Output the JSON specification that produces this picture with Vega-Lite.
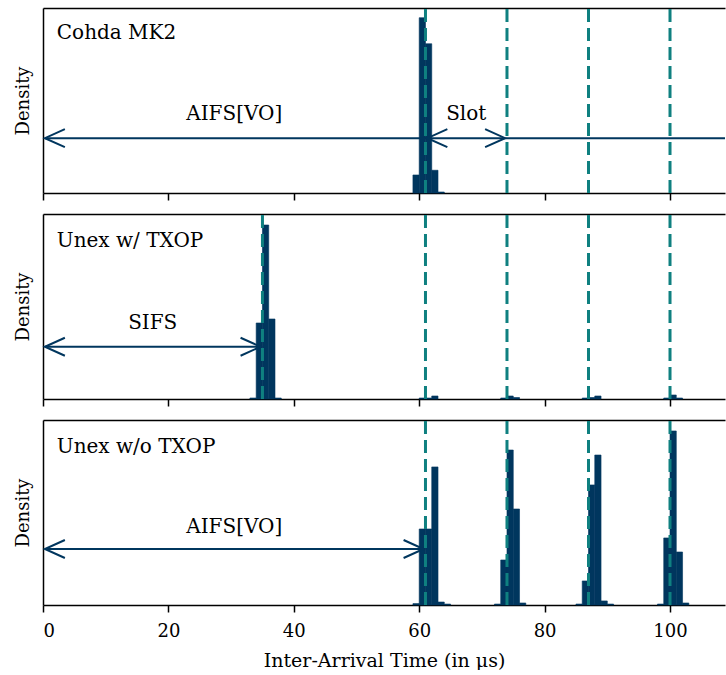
{
  "$schema": "https://vega.github.io/schema/vega-lite/v6.json",
  "padding": {"left": 14, "top": 6, "right": 0, "bottom": 0},
  "config": {
    "font": "DejaVu Serif",
    "view": {"stroke": null},
    "axis": {"domainColor": "black", "domainWidth": 1.5, "tickColor": "black", "tickWidth": 1.5, "tickSize": 7, "labelFontSize": 18, "labelColor": "black", "labelFont": "DejaVu Serif", "titleFont": "DejaVu Serif", "titleFontSize": 18, "titleColor": "black", "titleFontWeight": "normal", "grid": false},
    "concat": {"spacing": 11}
  },
  "datasets": {
    "bars": [
      {"panel": 1, "start": 59, "end": 60, "density": 0.0492},
      {"panel": 1, "start": 60, "end": 61, "density": 0.4785},
      {"panel": 1, "start": 61, "end": 62, "density": 0.4074},
      {"panel": 1, "start": 62, "end": 63, "density": 0.0621},
      {"panel": 1, "start": 63, "end": 64, "density": 0.0027},
      {"panel": 2, "start": 33, "end": 34, "density": 0.0028},
      {"panel": 2, "start": 34, "end": 35, "density": 0.2147},
      {"panel": 2, "start": 35, "end": 36, "density": 0.4915},
      {"panel": 2, "start": 36, "end": 37, "density": 0.226},
      {"panel": 2, "start": 37, "end": 38, "density": 0.0028},
      {"panel": 2, "start": 60, "end": 61, "density": 0.0028},
      {"panel": 2, "start": 61, "end": 62, "density": 0.0028},
      {"panel": 2, "start": 62, "end": 63, "density": 0.0085},
      {"panel": 2, "start": 73, "end": 74, "density": 0.0028},
      {"panel": 2, "start": 74, "end": 75, "density": 0.0085},
      {"panel": 2, "start": 75, "end": 76, "density": 0.0042},
      {"panel": 2, "start": 86, "end": 87, "density": 0.0028},
      {"panel": 2, "start": 87, "end": 88, "density": 0.0042},
      {"panel": 2, "start": 88, "end": 89, "density": 0.0085},
      {"panel": 2, "start": 99, "end": 100, "density": 0.0028},
      {"panel": 2, "start": 100, "end": 101, "density": 0.0113},
      {"panel": 2, "start": 101, "end": 102, "density": 0.0028},
      {"panel": 3, "start": 59, "end": 60, "density": 0.0012},
      {"panel": 3, "start": 60, "end": 61, "density": 0.0638},
      {"panel": 3, "start": 61, "end": 62, "density": 0.0638},
      {"panel": 3, "start": 62, "end": 63, "density": 0.1159},
      {"panel": 3, "start": 63, "end": 64, "density": 0.0025},
      {"panel": 3, "start": 64, "end": 65, "density": 0.0008},
      {"panel": 3, "start": 72, "end": 73, "density": 0.0008},
      {"panel": 3, "start": 73, "end": 74, "density": 0.0378},
      {"panel": 3, "start": 74, "end": 75, "density": 0.1301},
      {"panel": 3, "start": 75, "end": 76, "density": 0.0806},
      {"panel": 3, "start": 76, "end": 77, "density": 0.0017},
      {"panel": 3, "start": 85, "end": 86, "density": 0.0008},
      {"panel": 3, "start": 86, "end": 87, "density": 0.0202},
      {"panel": 3, "start": 87, "end": 88, "density": 0.1008},
      {"panel": 3, "start": 88, "end": 89, "density": 0.1259},
      {"panel": 3, "start": 89, "end": 90, "density": 0.0034},
      {"panel": 3, "start": 90, "end": 91, "density": 0.0008},
      {"panel": 3, "start": 98, "end": 99, "density": 0.0008},
      {"panel": 3, "start": 99, "end": 100, "density": 0.0563},
      {"panel": 3, "start": 100, "end": 101, "density": 0.1461},
      {"panel": 3, "start": 101, "end": 102, "density": 0.0445},
      {"panel": 3, "start": 102, "end": 103, "density": 0.0017}
    ],
    "vlines": [
      {"panel": 1, "x": 61}, {"panel": 1, "x": 74}, {"panel": 1, "x": 87}, {"panel": 1, "x": 100},
      {"panel": 2, "x": 35}, {"panel": 2, "x": 61}, {"panel": 2, "x": 74}, {"panel": 2, "x": 87}, {"panel": 2, "x": 100},
      {"panel": 3, "x": 61}, {"panel": 3, "x": 74}, {"panel": 3, "x": 87}, {"panel": 3, "x": 100}
    ],
    "arrows": [
      {"panel": 1, "x1": 0.3, "x2": 61.3, "y": 0.1496},
      {"panel": 1, "x1": 61.3, "x2": 73.7, "y": 0.1496},
      {"panel": 1, "x1": 73.7, "x2": 108.77, "y": 0.1496},
      {"panel": 2, "x1": 0.3, "x2": 34.7, "y": 0.1477},
      {"panel": 3, "x1": 0.3, "x2": 60.7, "y": 0.047}
    ],
    "heads": [
      {"panel": 1, "x": 0.3, "y": 0.1496, "dir": "left"},
      {"panel": 1, "x": 61.3, "y": 0.1496, "dir": "left"},
      {"panel": 1, "x": 73.7, "y": 0.1496, "dir": "right"},
      {"panel": 2, "x": 0.3, "y": 0.1477, "dir": "left"},
      {"panel": 2, "x": 34.7, "y": 0.1477, "dir": "right"},
      {"panel": 3, "x": 0.3, "y": 0.047, "dir": "left"},
      {"panel": 3, "x": 60.7, "y": 0.047, "dir": "right"}
    ],
    "titles": [
      {"panel": 1, "x": 2.2, "y": 0.437, "text": "Cohda MK2"},
      {"panel": 2, "x": 2.2, "y": 0.446, "text": "Unex w/ TXOP"},
      {"panel": 3, "x": 2.2, "y": 0.1326, "text": "Unex w/o TXOP"}
    ],
    "tags": [
      {"panel": 1, "x": 30.5, "y": 0.2152, "text": "AIFS[VO]"},
      {"panel": 1, "x": 67.5, "y": 0.2152, "text": "Slot"},
      {"panel": 2, "x": 17.5, "y": 0.2155, "text": "SIFS"},
      {"panel": 3, "x": 30.5, "y": 0.0655, "text": "AIFS[VO]"}
    ]
  },
  "vconcat": [
    {
      "width": 682, "height": 185,
      "layer": [
        {"data": {"name": "bars"}, "transform": [{"filter": "datum.panel == 1"}],
         "mark": {"type": "bar", "color": "#00365e", "stroke": "#00365e", "strokeWidth": 0.6},
         "encoding": {
           "x": {"field": "start", "type": "quantitative", "scale": {"domain": [0, 108.77], "nice": false, "zero": false}, "axis": {"orient": "bottom", "values": [0, 20, 40, 60, 80, 100], "labels": false, "title": null}},
           "x2": {"field": "end"},
           "y": {"field": "density", "type": "quantitative", "scale": {"domain": [0, 0.505], "nice": false}, "axis": {"title": "Density", "labels": false, "ticks": false, "titlePadding": 11}},
           "y2": {"datum": 0}
         }},
        {"data": {"name": "vlines"}, "transform": [{"filter": "datum.panel == 1"}],
         "mark": {"type": "rule", "color": "#0f8080", "strokeWidth": 3, "strokeDash": [13, 6]},
         "encoding": {
           "x": {"field": "x", "type": "quantitative", "scale": {"domain": [0, 108.77], "nice": false, "zero": false}, "axis": {"orient": "top", "labels": false, "ticks": false, "title": null}},
           "y": {"datum": 0, "type": "quantitative"},
           "y2": {"datum": 0.505}
         }},
        {"data": {"name": "arrows"}, "transform": [{"filter": "datum.panel == 1"}],
         "mark": {"type": "rule", "color": "#00365e", "strokeWidth": 2},
         "encoding": {
           "x": {"field": "x1", "type": "quantitative", "axis": null},
           "x2": {"field": "x2"},
           "y": {"field": "y", "type": "quantitative"}
         }},
        {"data": {"name": "heads"}, "transform": [{"filter": "datum.panel == 1"}],
         "mark": {"type": "point", "filled": false, "color": "#00365e", "strokeWidth": 2, "size": 1600, "opacity": 1},
         "encoding": {
           "x": {"field": "x", "type": "quantitative", "axis": null},
           "y": {"field": "y", "type": "quantitative"},
           "shape": {"field": "dir", "type": "nominal", "scale": {"domain": ["left", "right"], "range": ["M 1 -0.45 L 0 0 L 1 0.45", "M -1 -0.45 L 0 0 L -1 0.45"]}, "legend": null}
         }},
        {"data": {"name": "titles"}, "transform": [{"filter": "datum.panel == 1"}],
         "mark": {"type": "text", "align": "left", "baseline": "middle", "fontSize": 20, "color": "black"},
         "encoding": {
           "x": {"field": "x", "type": "quantitative", "axis": null},
           "y": {"field": "y", "type": "quantitative"},
           "text": {"field": "text"}
         }},
        {"data": {"name": "tags"}, "transform": [{"filter": "datum.panel == 1"}],
         "mark": {"type": "text", "align": "center", "baseline": "middle", "fontSize": 20, "color": "black"},
         "encoding": {
           "x": {"field": "x", "type": "quantitative", "axis": null},
           "y": {"field": "y", "type": "quantitative"},
           "text": {"field": "text"}
         }}
      ]
    },
    {
      "width": 682, "height": 185,
      "layer": [
        {"data": {"name": "bars"}, "transform": [{"filter": "datum.panel == 2"}],
         "mark": {"type": "bar", "color": "#00365e", "stroke": "#00365e", "strokeWidth": 0.6},
         "encoding": {
           "x": {"field": "start", "type": "quantitative", "scale": {"domain": [0, 108.77], "nice": false, "zero": false}, "axis": {"orient": "bottom", "values": [0, 20, 40, 60, 80, 100], "labels": false, "title": null}},
           "x2": {"field": "end"},
           "y": {"field": "density", "type": "quantitative", "scale": {"domain": [0, 0.5226], "nice": false}, "axis": {"title": "Density", "labels": false, "ticks": false, "titlePadding": 11}},
           "y2": {"datum": 0}
         }},
        {"data": {"name": "vlines"}, "transform": [{"filter": "datum.panel == 2"}],
         "mark": {"type": "rule", "color": "#0f8080", "strokeWidth": 3, "strokeDash": [13, 6]},
         "encoding": {
           "x": {"field": "x", "type": "quantitative", "scale": {"domain": [0, 108.77], "nice": false, "zero": false}, "axis": {"orient": "top", "labels": false, "ticks": false, "title": null}},
           "y": {"datum": 0, "type": "quantitative"},
           "y2": {"datum": 0.5226}
         }},
        {"data": {"name": "arrows"}, "transform": [{"filter": "datum.panel == 2"}],
         "mark": {"type": "rule", "color": "#00365e", "strokeWidth": 2},
         "encoding": {
           "x": {"field": "x1", "type": "quantitative", "axis": null},
           "x2": {"field": "x2"},
           "y": {"field": "y", "type": "quantitative"}
         }},
        {"data": {"name": "heads"}, "transform": [{"filter": "datum.panel == 2"}],
         "mark": {"type": "point", "filled": false, "color": "#00365e", "strokeWidth": 2, "size": 1600, "opacity": 1},
         "encoding": {
           "x": {"field": "x", "type": "quantitative", "axis": null},
           "y": {"field": "y", "type": "quantitative"},
           "shape": {"field": "dir", "type": "nominal", "scale": {"domain": ["left", "right"], "range": ["M 1 -0.45 L 0 0 L 1 0.45", "M -1 -0.45 L 0 0 L -1 0.45"]}, "legend": null}
         }},
        {"data": {"name": "titles"}, "transform": [{"filter": "datum.panel == 2"}],
         "mark": {"type": "text", "align": "left", "baseline": "middle", "fontSize": 20, "color": "black"},
         "encoding": {
           "x": {"field": "x", "type": "quantitative", "axis": null},
           "y": {"field": "y", "type": "quantitative"},
           "text": {"field": "text"}
         }},
        {"data": {"name": "tags"}, "transform": [{"filter": "datum.panel == 2"}],
         "mark": {"type": "text", "align": "center", "baseline": "middle", "fontSize": 20, "color": "black"},
         "encoding": {
           "x": {"field": "x", "type": "quantitative", "axis": null},
           "y": {"field": "y", "type": "quantitative"},
           "text": {"field": "text"}
         }}
      ]
    },
    {
      "width": 682, "height": 185,
      "layer": [
        {"data": {"name": "bars"}, "transform": [{"filter": "datum.panel == 3"}],
         "mark": {"type": "bar", "color": "#00365e", "stroke": "#00365e", "strokeWidth": 0.6},
         "encoding": {
           "x": {"field": "start", "type": "quantitative", "scale": {"domain": [0, 108.77], "nice": false, "zero": false}, "axis": {"orient": "bottom", "values": [0, 20, 40, 60, 80, 100], "title": "Inter-Arrival Time (in μs)", "titleFontSize": 19, "labelPadding": 10, "titlePadding": 11}},
           "x2": {"field": "end"},
           "y": {"field": "density", "type": "quantitative", "scale": {"domain": [0, 0.1553], "nice": false}, "axis": {"title": "Density", "labels": false, "ticks": false, "titlePadding": 11}},
           "y2": {"datum": 0}
         }},
        {"data": {"name": "vlines"}, "transform": [{"filter": "datum.panel == 3"}],
         "mark": {"type": "rule", "color": "#0f8080", "strokeWidth": 3, "strokeDash": [13, 6]},
         "encoding": {
           "x": {"field": "x", "type": "quantitative", "scale": {"domain": [0, 108.77], "nice": false, "zero": false}, "axis": {"orient": "top", "labels": false, "ticks": false, "title": null}},
           "y": {"datum": 0, "type": "quantitative"},
           "y2": {"datum": 0.1553}
         }},
        {"data": {"name": "arrows"}, "transform": [{"filter": "datum.panel == 3"}],
         "mark": {"type": "rule", "color": "#00365e", "strokeWidth": 2},
         "encoding": {
           "x": {"field": "x1", "type": "quantitative", "axis": null},
           "x2": {"field": "x2"},
           "y": {"field": "y", "type": "quantitative"}
         }},
        {"data": {"name": "heads"}, "transform": [{"filter": "datum.panel == 3"}],
         "mark": {"type": "point", "filled": false, "color": "#00365e", "strokeWidth": 2, "size": 1600, "opacity": 1},
         "encoding": {
           "x": {"field": "x", "type": "quantitative", "axis": null},
           "y": {"field": "y", "type": "quantitative"},
           "shape": {"field": "dir", "type": "nominal", "scale": {"domain": ["left", "right"], "range": ["M 1 -0.45 L 0 0 L 1 0.45", "M -1 -0.45 L 0 0 L -1 0.45"]}, "legend": null}
         }},
        {"data": {"name": "titles"}, "transform": [{"filter": "datum.panel == 3"}],
         "mark": {"type": "text", "align": "left", "baseline": "middle", "fontSize": 20, "color": "black"},
         "encoding": {
           "x": {"field": "x", "type": "quantitative", "axis": null},
           "y": {"field": "y", "type": "quantitative"},
           "text": {"field": "text"}
         }},
        {"data": {"name": "tags"}, "transform": [{"filter": "datum.panel == 3"}],
         "mark": {"type": "text", "align": "center", "baseline": "middle", "fontSize": 20, "color": "black"},
         "encoding": {
           "x": {"field": "x", "type": "quantitative", "axis": null},
           "y": {"field": "y", "type": "quantitative"},
           "text": {"field": "text"}
         }}
      ]
    }
  ]
}
